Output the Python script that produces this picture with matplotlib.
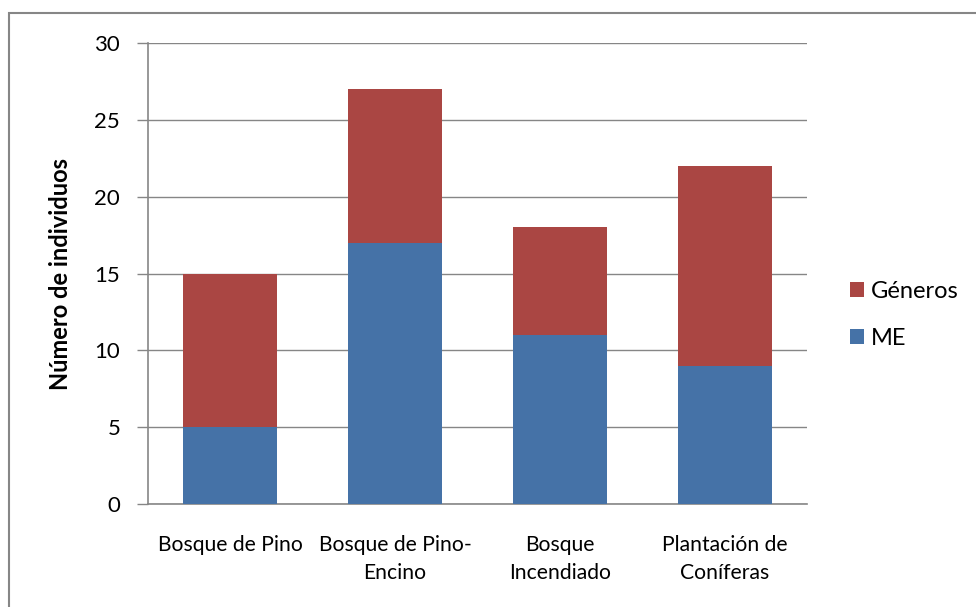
import matplotlib
matplotlib.use("Agg")
import matplotlib.pyplot as plt
from matplotlib.patches import Rectangle

categories = ["Bosque de Pino", "Bosque de Pino-\nEncino", "Bosque\nIncendiado", "Plantación de\nConíferas"]
me = [5, 17, 11, 9]
generos = [10, 10, 7, 13]
yticks = [0, 5, 10, 15, 20, 25, 30]

blue = "#4572A7"
red = "#AA4643"
grid = "#868686"

plt.rcParams["font.family"] = ["Lato", "DejaVu Sans"]

fig = plt.figure(figsize=(9.76, 6.07), dpi=100)
ax = fig.add_axes([148 / 976, 1 - 504 / 607, (807 - 148) / 976, (504 - 43) / 607])

x = list(range(len(categories)))
ax.bar(x, me, width=0.57, color=blue, label="ME", zorder=3)
ax.bar(x, generos, width=0.57, bottom=me, color=red, label="Géneros", zorder=3)

ax.set_xlim(-0.5, len(categories) - 0.5)
ax.set_ylim(0, 30)
ax.set_yticks(yticks)
ax.set_yticklabels([str(v) for v in yticks], fontsize=16)
ax.set_xticks(x)
ax.set_xticklabels(categories, fontsize=15.2, linespacing=1.5)
ax.tick_params(axis="x", length=0, pad=22)
ax.tick_params(axis="y", length=8, color=grid, width=1, pad=12)
ax.yaxis.grid(True, color=grid, linewidth=1, zorder=0)
for side in ("top", "right"):
    ax.spines[side].set_visible(False)
for side in ("left", "bottom"):
    ax.spines[side].set_color(grid)
    ax.spines[side].set_linewidth(1.2)

ax.set_ylabel("Número de individuos", fontsize=17, fontweight="bold", labelpad=16)

handles, labels = ax.get_legend_handles_labels()
leg = fig.legend(handles[::-1], labels[::-1], loc="center left",
                 bbox_to_anchor=(838 / 976, 1 - 315 / 607), frameon=False,
                 fontsize=17, handlelength=0.6, handleheight=0.6,
                 handletextpad=0.3, labelspacing=1.1, borderpad=0)

# outer chart border
fig.patches.append(Rectangle((9 / 976, -0.01), 1.0, 1 - 13 / 607 + 0.01,
                             transform=fig.transFigure, fill=False,
                             edgecolor=grid, linewidth=1.5))

fig.savefig("out.png", dpi=100)
